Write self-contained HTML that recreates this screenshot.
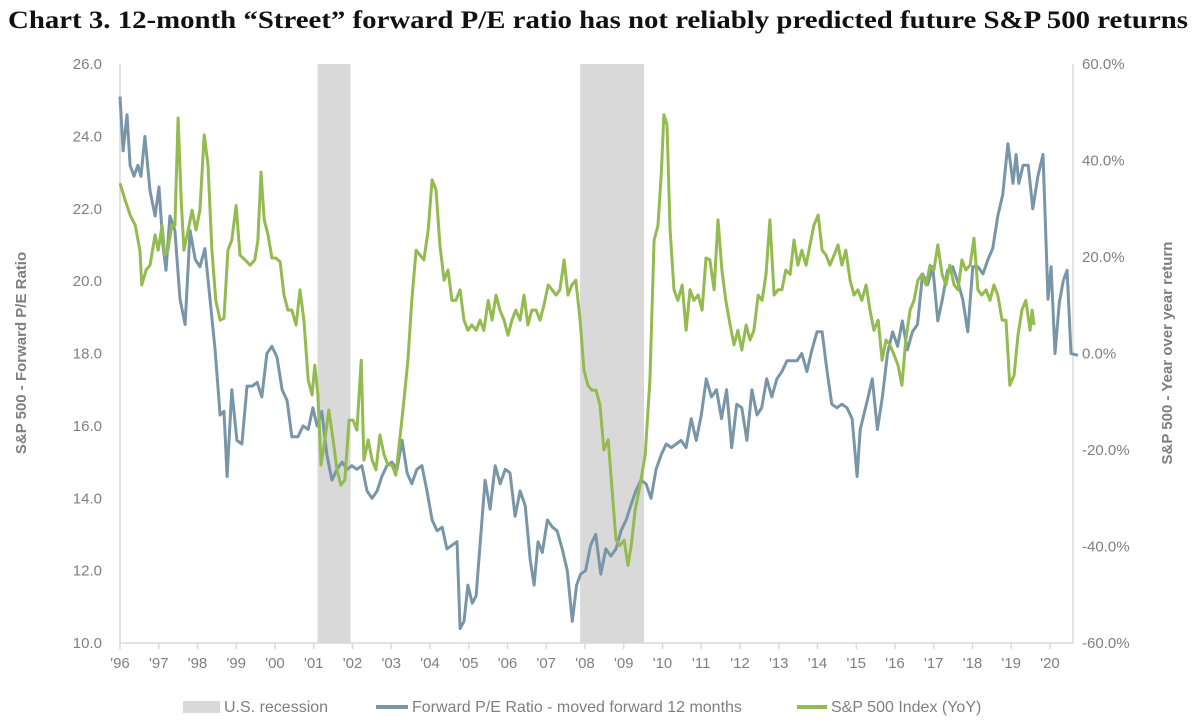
<!DOCTYPE html>
<html><head><meta charset="utf-8">
<style>
html,body{margin:0;padding:0;background:#fff;}
svg{display:block;font-family:"Liberation Sans",sans-serif;}
</style></head>
<body>
<svg id="chart" width="1200" height="728" viewBox="0 0 1200 728">
<text x="8" y="28" font-family="Liberation Serif, serif" font-weight="bold" font-size="25" fill="#111" textLength="1180" lengthAdjust="spacingAndGlyphs">Chart 3. 12-month “Street” forward P/E ratio has not reliably predicted future S&amp;P 500 returns</text>
<g id="plot"></g>
<text transform="translate(26,353) rotate(-90)" text-anchor="middle" font-size="15" font-weight="bold" fill="#7f7f7f">S&amp;P 500 - Forward P/E Ratio</text>
<text transform="translate(1172,353) rotate(-90)" text-anchor="middle" font-size="15" font-weight="bold" fill="#7f7f7f">S&amp;P 500 - Year over year return</text>
<g>
<rect x="183" y="701" width="37" height="12" fill="#d9d9d9"/>
<text x="224" y="712" font-size="16" fill="#7f7f7f">U.S. recession</text>
<line x1="376" y1="707" x2="408" y2="707" stroke="#7896a8" stroke-width="4"/>
<text x="412" y="712" font-size="16" fill="#7f7f7f">Forward P/E Ratio - moved forward 12 months</text>
<line x1="797" y1="707" x2="827" y2="707" stroke="#93bb4f" stroke-width="4"/>
<text x="831" y="712" font-size="16" fill="#7f7f7f">S&amp;P 500 Index (YoY)</text>
</g>
</svg>
<script>
const recessions=[[2001.07,2001.92],[2007.81,2009.45]];
const leftTicks=[10,12,14,16,18,20,22,24,26];
const rightTicks=[-60,-40,-20,0,20,40,60];
const yearLabels=["'96","'97","'98","'99","'00","'01","'02","'03","'04","'05","'06","'07","'08","'09","'10","'11","'12","'13","'14","'15","'16","'17","'18","'19","'20"];
const peYears=[1996.00,1996.08,1996.18,1996.26,1996.36,1996.46,1996.54,1996.64,1996.77,1996.90,1997.00,1997.10,1997.18,1997.28,1997.41,1997.54,1997.67,1997.80,1997.93,1998.05,1998.18,1998.31,1998.44,1998.57,1998.67,1998.75,1998.87,1999.00,1999.13,1999.26,1999.39,1999.52,1999.64,1999.77,1999.90,2000.03,2000.16,2000.29,2000.41,2000.57,2000.70,2000.83,2000.95,2001.06,2001.18,2001.31,2001.44,2001.57,2001.70,2001.83,2001.95,2002.08,2002.21,2002.34,2002.47,2002.60,2002.72,2002.85,2002.98,2003.11,2003.24,2003.37,2003.49,2003.62,2003.75,2003.88,2004.01,2004.14,2004.27,2004.39,2004.52,2004.65,2004.73,2004.83,2004.93,2005.04,2005.14,2005.24,2005.37,2005.50,2005.63,2005.76,2005.89,2006.01,2006.14,2006.27,2006.40,2006.53,2006.63,2006.73,2006.84,2006.97,2007.10,2007.22,2007.35,2007.48,2007.61,2007.72,2007.82,2007.95,2008.08,2008.21,2008.34,2008.47,2008.60,2008.73,2008.86,2008.99,2009.11,2009.24,2009.37,2009.50,2009.63,2009.76,2009.89,2010.02,2010.15,2010.28,2010.40,2010.53,2010.66,2010.79,2010.92,2011.05,2011.18,2011.31,2011.44,2011.57,2011.70,2011.83,2011.96,2012.09,2012.22,2012.35,2012.47,2012.60,2012.73,2012.86,2012.99,2013.12,2013.25,2013.38,2013.50,2013.63,2013.76,2013.89,2014.02,2014.15,2014.27,2014.40,2014.53,2014.66,2014.79,2014.92,2015.00,2015.18,2015.31,2015.44,2015.57,2015.70,2015.83,2015.96,2016.08,2016.21,2016.34,2016.47,2016.60,2016.73,2016.86,2016.99,2017.11,2017.24,2017.37,2017.50,2017.63,2017.76,2017.89,2018.02,2018.15,2018.28,2018.40,2018.53,2018.66,2018.79,2018.92,2019.00,2019.07,2019.18,2019.31,2019.43,2019.56,2019.69,2019.82,2019.90,2020.00,2020.11,2020.21,2020.31,2020.41,2020.59];
const peValues=[25.1,23.6,24.6,23.2,22.9,23.2,22.9,24.0,22.5,21.8,22.6,21.0,20.3,21.8,21.4,19.5,18.8,21.4,20.6,20.4,20.9,19.5,18.1,16.3,16.4,14.6,17.0,15.6,15.5,17.1,17.1,17.2,16.8,18.0,18.2,17.9,17.0,16.7,15.7,15.7,16.0,15.9,16.5,16.0,16.4,15.2,14.5,14.8,15.0,14.8,14.9,14.8,14.9,14.2,14.0,14.2,14.6,14.9,15.0,14.8,15.6,14.7,14.4,14.8,14.9,14.2,13.4,13.1,13.2,12.6,12.7,12.8,10.4,10.6,11.6,11.1,11.3,12.7,14.5,13.7,14.9,14.4,14.8,14.7,13.5,14.2,13.8,12.3,11.6,12.8,12.5,13.4,13.2,13.1,12.6,12.0,10.6,11.6,11.9,12.0,12.7,13.0,11.9,12.6,12.4,12.6,13.1,13.4,13.8,14.2,14.5,14.4,14.0,14.8,15.2,15.5,15.4,15.5,15.6,15.4,16.2,15.6,16.3,17.3,16.8,17.0,16.2,17.0,15.4,16.6,16.5,15.6,17.0,16.3,16.5,17.3,16.8,17.3,17.5,17.8,17.8,17.8,18.0,17.5,18.1,18.6,18.6,17.5,16.6,16.5,16.6,16.5,16.2,14.6,15.9,16.7,17.3,15.9,16.8,18.0,18.6,18.2,18.9,18.1,18.6,18.8,20.2,19.9,20.4,18.9,19.5,20.3,20.4,20.0,19.5,18.6,20.4,20.4,20.2,20.6,20.9,21.8,22.4,23.8,22.7,23.5,22.7,23.2,23.2,22.0,22.9,23.5,19.5,20.4,18.0,19.4,20.0,20.3,18.0,17.95];
const spYears=[1996.00,1996.13,1996.26,1996.39,1996.51,1996.56,1996.67,1996.77,1996.90,1996.98,1997.08,1997.15,1997.23,1997.33,1997.41,1997.49,1997.57,1997.64,1997.75,1997.85,1997.95,1998.05,1998.16,1998.26,1998.36,1998.46,1998.57,1998.67,1998.77,1998.87,1998.98,1999.08,1999.21,1999.34,1999.46,1999.54,1999.62,1999.70,1999.80,1999.90,2000.00,2000.11,2000.21,2000.31,2000.41,2000.52,2000.62,2000.72,2000.83,2000.93,2001.00,2001.08,2001.16,2001.26,2001.36,2001.47,2001.57,2001.67,2001.77,2001.88,2001.98,2002.08,2002.19,2002.26,2002.37,2002.47,2002.57,2002.67,2002.78,2002.88,2002.98,2003.08,2003.18,2003.29,2003.39,2003.49,2003.60,2003.70,2003.80,2003.91,2004.01,2004.11,2004.21,2004.32,2004.42,2004.52,2004.62,2004.73,2004.83,2004.93,2005.03,2005.14,2005.24,2005.34,2005.45,2005.55,2005.65,2005.75,2005.86,2005.96,2006.06,2006.16,2006.27,2006.37,2006.47,2006.57,2006.68,2006.78,2006.88,2006.99,2007.09,2007.19,2007.29,2007.40,2007.50,2007.60,2007.70,2007.81,2007.91,2008.01,2008.11,2008.22,2008.32,2008.42,2008.53,2008.63,2008.73,2008.83,2008.94,2009.04,2009.12,2009.22,2009.35,2009.48,2009.60,2009.71,2009.81,2009.89,2009.96,2010.04,2010.12,2010.22,2010.32,2010.43,2010.53,2010.63,2010.73,2010.84,2010.94,2011.04,2011.14,2011.25,2011.35,2011.45,2011.55,2011.66,2011.76,2011.86,2011.96,2012.07,2012.17,2012.27,2012.38,2012.48,2012.58,2012.68,2012.79,2012.89,2012.99,2013.09,2013.20,2013.30,2013.40,2013.50,2013.61,2013.71,2013.81,2013.92,2014.02,2014.12,2014.22,2014.33,2014.43,2014.53,2014.63,2014.74,2014.84,2014.94,2015.04,2015.15,2015.25,2015.35,2015.46,2015.56,2015.66,2015.76,2015.87,2015.97,2016.07,2016.17,2016.28,2016.38,2016.48,2016.58,2016.69,2016.79,2016.89,2016.99,2017.10,2017.20,2017.30,2017.41,2017.51,2017.61,2017.71,2017.82,2017.92,2018.02,2018.12,2018.23,2018.33,2018.43,2018.53,2018.64,2018.74,2018.84,2018.95,2019.05,2019.15,2019.25,2019.36,2019.41,2019.46];
const spValues=[35.3,31.8,28.7,26.6,21.4,14.2,17.3,18.3,24.6,21.4,26.6,20.4,21.4,26.6,26.6,48.8,31.8,21.4,25.6,29.7,25.6,29.7,45.3,39.1,21.4,11.0,6.9,7.3,21.4,23.5,30.7,20.4,19.4,18.3,19.4,23.5,37.6,27.7,24.6,19.8,19.8,19.0,12.1,9.0,9.0,5.9,13.2,6.9,-5.5,-8.6,-2.4,-8.6,-23.1,-17.9,-11.7,-17.9,-24.1,-27.3,-26.2,-13.8,-13.8,-15.9,-1.4,-22.1,-17.9,-22.1,-24.1,-16.9,-21.0,-23.1,-23.1,-25.2,-17.9,-9.6,-1.4,11.0,21.4,20.4,19.4,25.6,36.0,33.9,22.5,15.2,17.3,11.0,11.0,13.2,6.9,4.8,5.9,4.8,6.9,4.8,11.0,6.9,12.1,9.0,6.9,3.8,6.9,9.0,6.9,12.1,5.9,9.0,9.0,6.9,10.0,14.2,13.2,12.1,13.2,19.4,12.1,14.2,15.2,6.9,-3.5,-6.6,-7.6,-7.6,-10.7,-20.0,-17.9,-28.3,-38.7,-39.8,-38.7,-43.9,-39.8,-32.5,-27.3,-21.0,-5.5,23.5,26.6,37.0,49.5,47.4,25.6,13.2,11.0,14.2,4.8,13.2,11.0,12.1,9.0,19.8,19.4,13.2,27.7,17.3,11.0,5.9,1.8,4.8,0.7,5.9,2.8,4.8,12.1,11.0,16.4,27.7,12.1,13.2,13.2,17.3,16.4,23.5,18.3,21.4,18.3,22.5,26.6,28.7,21.4,20.4,18.3,20.4,22.5,18.3,21.4,15.2,12.1,13.2,11.0,14.2,9.0,4.8,6.9,-1.4,2.8,1.8,-0.3,-2.4,-6.6,2.8,9.0,11.0,15.2,16.4,14.2,18.3,17.3,22.5,16.4,14.2,18.3,14.2,13.2,19.4,17.3,18.3,23.9,13.2,12.1,13.2,11.0,14.2,12.1,6.9,6.9,-6.6,-4.5,3.8,9.0,11.0,4.8,9.0,5.9];

const X0=120,X1=1073,Y0=64,Y1=643;
const xs=yr=>X0+(yr-1996)*38.96;
const yL=v=>Y1-(v-10)/(26-10)*(Y1-Y0);
const yR=v=>Y1-(v+60)/120*(Y1-Y0);
const NS="http://www.w3.org/2000/svg";
const plot=document.getElementById('plot');
function mk(tag,attrs,parent){const e=document.createElementNS(NS,tag);for(const k in attrs)e.setAttribute(k,attrs[k]);(parent||plot).appendChild(e);return e;}

recessions.forEach(r=>{
  const e=mk('rect',{x:xs(r[0]),y:Y0,width:xs(r[1])-xs(r[0]),height:Y1-Y0,fill:'#d9d9d9'});
  
  
});
let ax=mk('line',{x1:X0,y1:Y0,x2:X0,y2:Y1,stroke:'#d9d9d9','stroke-width':1.5});


ax=mk('line',{x1:X1,y1:Y0,x2:X1,y2:Y1,stroke:'#d9d9d9','stroke-width':1.5});


ax=mk('line',{x1:X0,y1:Y1,x2:X1,y2:Y1,stroke:'#d9d9d9','stroke-width':1.5});



leftTicks.forEach(v=>{
  const t=mk('text',{x:102,y:yL(v)+5,'text-anchor':'end','font-size':15,fill:'#7f7f7f'});
  t.textContent=v.toFixed(1);
  
  
});
rightTicks.forEach(v=>{
  const t=mk('text',{x:1082,y:yR(v)+5,'font-size':15,fill:'#7f7f7f'});
  t.textContent=v.toFixed(1)+'%';
  
  
});
yearLabels.forEach((lab,i)=>{
  const x=X0+i*38.75;
  const tk=mk('line',{x1:x,y1:Y1,x2:x,y2:Y1+6,stroke:'#d9d9d9','stroke-width':1.5});
  
  
  const t=mk('text',{x:x,y:Y1+25,'text-anchor':'middle','font-size':15,fill:'#7f7f7f'});
  t.textContent=lab;
  
  
});
let d=peYears.map((yr,i)=>(i?'L':'M')+xs(yr).toFixed(1)+','+yL(peValues[i]).toFixed(1)).join('');
const pe=mk('path',{d:d,fill:'none',stroke:'#7896a8','stroke-width':3,'stroke-linejoin':'round'});


d=spYears.map((yr,i)=>(i?'L':'M')+xs(yr).toFixed(1)+','+yR(spValues[i]).toFixed(1)).join('');
const sp=mk('path',{d:d,fill:'none',stroke:'#93bb4f','stroke-width':3,'stroke-linejoin':'round'});


</script>
</body></html>
